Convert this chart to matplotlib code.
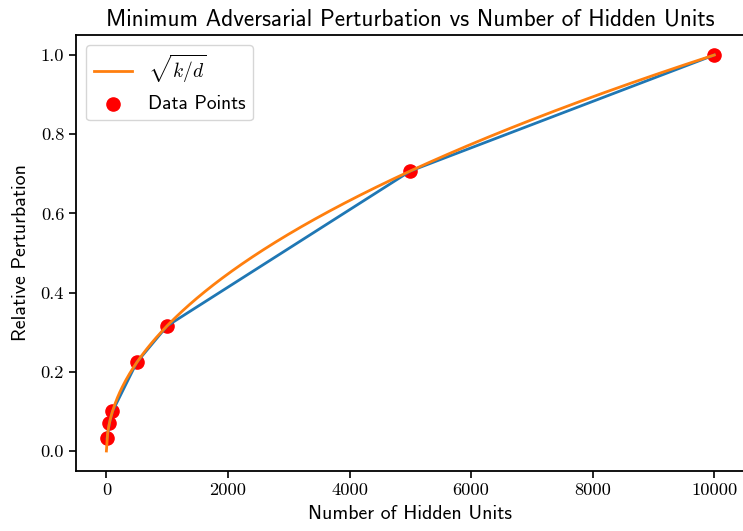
import numpy as np
import matplotlib
matplotlib.use("Agg")
import matplotlib.pyplot as plt

plt.rcParams['mathtext.fontset'] = 'cm'
plt.rcParams['axes.unicode_minus'] = False

hidden_units = [10, 50, 100, 500, 1000, 5000, 10000]
rel_perturbation = [0.032, 0.071, 0.100, 0.224, 0.316, 0.707, 1.000]
d_total = 10000
x_ticks = [0, 2000, 4000, 6000, 8000, 10000]
y_ticks = [0.0, 0.2, 0.4, 0.6, 0.8, 1.0]

fig = plt.figure(figsize=(7.43, 5.31), dpi=100)
ax = fig.add_axes([0.1023, 0.1134, 0.9, 0.8203])

ax.plot(hidden_units, rel_perturbation, color='C0', lw=2)
k = np.linspace(0, d_total, 500)
ax.plot(k, np.sqrt(k / d_total), color='C1', lw=2, label=r'$\sqrt{k/d}$')
ax.scatter(hidden_units, rel_perturbation, color='red', s=90, label='Data Points', zorder=1)

ax.set_xlim(-500, 10500)
ax.set_ylim(-0.05, 1.05)
ax.set_xticks(x_ticks)
ax.set_yticks(y_ticks)
ax.set_xticklabels([str(t) for t in x_ticks], fontfamily='cmr10', fontsize=13.3)
ax.set_yticklabels([f"{t:.1f}" for t in y_ticks], fontfamily='cmr10', fontsize=13.3)
for s in ax.spines.values():
    s.set_linewidth(1.3)
ax.tick_params(width=1.2, length=5)

ax.set_title('Minimum Adversarial Perturbation vs Number of Hidden Units', fontfamily='cmss10', fontsize=16.7, pad=7)
ax.set_xlabel('Number of Hidden Units', fontfamily='cmss10', fontsize=14.3, labelpad=5)
ax.set_ylabel('Relative Perturbation', fontfamily='cmss10', fontsize=14.3, labelpad=8)
ax.legend(loc='upper left', prop={'family': 'cmss10', 'size': 14})

fig.savefig('out.png', dpi=100)
